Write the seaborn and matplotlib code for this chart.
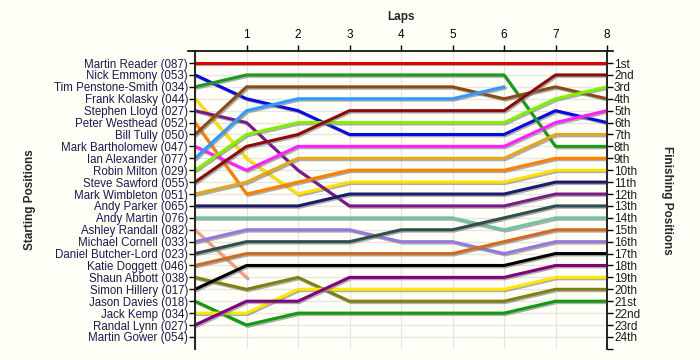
import matplotlib
matplotlib.use('Agg')
import matplotlib.pyplot as plt
import matplotlib.patheffects as pe
import numpy as np
import pandas as pd
import seaborn as sns

# starting grid (name + number), in starting order
drivers = ['Martin Reader (087)', 'Nick Emmony (053)', 'Tim Penstone-Smith (034)', 'Frank Kolasky (044)',
           'Stephen Lloyd (027)', 'Peter Westhead (052)', 'Bill Tully (050)', 'Mark Bartholomew (047)',
           'Ian Alexander (077)', 'Robin Milton (029)', 'Steve Sawford (055)', 'Mark Wimbleton (051)',
           'Andy Parker (065)', 'Andy Martin (076)', 'Ashley Randall (082)', 'Michael Cornell (033)',
           'Daniel Butcher-Lord (023)', 'Katie Doggett (046)', 'Shaun Abbott (038)', 'Simon Hillery (017)',
           'Jason Davies (018)', 'Jack Kemp (034)', 'Randal Lynn (027)', 'Martin Gower (054)']

# position at lap 0..8 (shorter list = retired)
positions = {
    'Martin Reader (087)':       [1, 1, 1, 1, 1, 1, 1, 1, 1],
    'Nick Emmony (053)':         [2, 4, 5, 7, 7, 7, 7, 5, 6],
    'Tim Penstone-Smith (034)':  [3, 2, 2, 2, 2, 2, 2, 8, 8],
    'Frank Kolasky (044)':       [4, 9, 12, 11, 11, 11, 11, 10, 10],
    'Stephen Lloyd (027)':       [5, 6, 10, 13, 13, 13, 13, 12, 12],
    'Peter Westhead (052)':      [6, 12, 11, 10, 10, 10, 10, 9, 9],
    'Bill Tully (050)':          [7, 3, 3, 3, 3, 3, 4, 3, 4],
    'Mark Bartholomew (047)':    [8, 10, 8, 8, 8, 8, 8, 6, 5],
    'Ian Alexander (077)':       [9, 5, 4, 4, 4, 4, 3],
    'Robin Milton (029)':        [10, 7, 6, 6, 6, 6, 6, 4, 3],
    'Steve Sawford (055)':       [11, 8, 7, 5, 5, 5, 5, 2, 2],
    'Mark Wimbleton (051)':      [12, 11, 9, 9, 9, 9, 9, 7, 7],
    'Andy Parker (065)':         [13, 13, 13, 12, 12, 12, 12, 11, 11],
    'Andy Martin (076)':         [14, 14, 14, 14, 14, 14, 15, 14, 14],
    'Ashley Randall (082)':      [15, 19],
    'Michael Cornell (033)':     [16, 15, 15, 15, 16, 16, 17, 16, 16],
    'Daniel Butcher-Lord (023)': [17, 16, 16, 16, 15, 15, 14, 13, 13],
    'Katie Doggett (046)':       [18, 17, 17, 17, 17, 17, 16, 15, 15],
    'Shaun Abbott (038)':        [19, 20, 19, 21, 21, 21, 21, 20, 20],
    'Simon Hillery (017)':       [20, 18, 18, 18, 18, 18, 18, 17, 17],
    'Jason Davies (018)':        [21, 23, 22, 22, 22, 22, 22, 21, 21],
    'Jack Kemp (034)':           [22, 22, 20, 20, 20, 20, 20, 19, 19],
    'Randal Lynn (027)':         [23, 21, 21, 19, 19, 19, 19, 18, 18],
    'Martin Gower (054)':        [],
}

colours = {
    'Martin Reader (087)': '#e00000', 'Nick Emmony (053)': '#0a0ae0', 'Tim Penstone-Smith (034)': '#1a9a1a',
    'Frank Kolasky (044)': '#ffe000', 'Stephen Lloyd (027)': '#7a1a8a', 'Peter Westhead (052)': '#ff8000',
    'Bill Tully (050)': '#8b4a14', 'Mark Bartholomew (047)': '#ff20ff', 'Ian Alexander (077)': '#3399ff',
    'Robin Milton (029)': '#80f000', 'Steve Sawford (055)': '#8b0a0a', 'Mark Wimbleton (051)': '#dfa820',
    'Andy Parker (065)': '#1a1a6e', 'Andy Martin (076)': '#70c4a4', 'Ashley Randall (082)': '#f4a080',
    'Michael Cornell (033)': '#9678dc', 'Daniel Butcher-Lord (023)': '#2f4f4f', 'Katie Doggett (046)': '#d2691e',
    'Shaun Abbott (038)': '#808010', 'Simon Hillery (017)': '#000000', 'Jason Davies (018)': '#109a10',
    'Jack Kemp (034)': '#ffe800', 'Randal Lynn (027)': '#800080', 'Martin Gower (054)': '#888888',
}

finish_labels = ['1st', '2nd', '3rd', '4th', '5th', '6th', '7th', '8th', '9th', '10th', '11th', '12th',
                 '13th', '14th', '15th', '16th', '17th', '18th', '19th', '20th', '21st', '22nd', '23rd', '24th']

rows = []
for name in drivers:
    for lap, pos in enumerate(positions[name]):
        rows.append({'driver': name, 'lap': lap, 'pos': pos})
df = pd.DataFrame(rows)

bg = '#fffff7'
sns.set_style('white')
plt.rcParams['font.family'] = ['Liberation Sans', 'DejaVu Sans']

fig = plt.figure(figsize=(7, 3.6), dpi=100, facecolor=bg)
ax = fig.add_axes([0.2786, 0.031, 0.5886, 0.827])
ax.set_facecolor(bg)

used = [d for d in drivers if len(positions[d]) > 0]
sns.lineplot(data=df, x='lap', y='pos', hue='driver', hue_order=used, palette=colours,
             estimator=None, sort=False, linewidth=2.2, legend=False, ax=ax, zorder=3)
for line in ax.lines:
    line.set_path_effects([pe.SimpleLineShadow(offset=(1, -1), shadow_color='#777777', alpha=0.6), pe.Normal()])

ax.set_xlim(0, 8)
ax.set_ylim(25, 0)

# grid
ax.set_xticks(range(1, 9))
ax.set_yticks(range(1, 25))
ax.grid(True, color='#e4e4e4', linewidth=0.9, zorder=0)
ax.set_axisbelow(True)

# top lap axis
ax.xaxis.tick_top()
ax.xaxis.set_label_position('top')
ax.tick_params(axis='x', direction='out', length=4, width=1, colors='black', labelsize=8.5, pad=3)
ax.set_xlabel('Laps', fontsize=8.5, fontweight='bold', labelpad=7)

# left: starting grid
ax.set_yticklabels(drivers)
ax.tick_params(axis='y', direction='out', length=4, width=1, colors='black', labelcolor='#1a1a50',
               labelsize=8.3, pad=1)
ax.set_ylabel('Starting Positions', fontsize=8.5, fontweight='bold')
ax.yaxis.set_label_coords(-0.385, 0.5)

ax.spines['bottom'].set_visible(False)
for side in ['left', 'top', 'right']:
    ax.spines[side].set_visible(True)
    ax.spines[side].set_color('black')
    ax.spines[side].set_linewidth(1.2)
ax.spines['top'].set_bounds(-0.14, 8.12)

# right: finishing order
ax2 = ax.twinx()
ax2.set_ylim(25, 0)
ax2.set_yticks(range(1, 26))
ax2.set_yticklabels(finish_labels + [''])
ax2.tick_params(axis='y', direction='out', length=4, width=1, colors='black', labelcolor='#1a1a1a',
                labelsize=8.5, pad=1)
ax2.set_ylabel('Finishing Positions', fontsize=8.5, fontweight='bold', rotation=270)
ax2.yaxis.set_label_coords(1.16, 0.5)
ax2.spines['bottom'].set_visible(False)
ax2.spines['top'].set_visible(False)
ax2.spines['right'].set_linewidth(1.2)
ax2.grid(False)

fig.savefig('out.png', dpi=100, facecolor=bg)
